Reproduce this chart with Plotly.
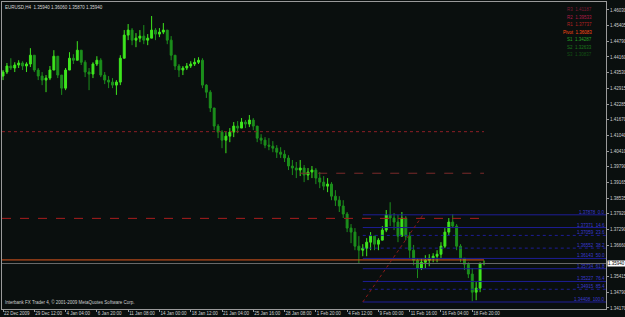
import plotly.graph_objects as go

# ---------------- data (EURUSD, H4) ----------------
bar_index = list(range(124))

high = [1.4364, 1.4392, 1.4411, 1.4395, 1.4403, 1.4399, 1.4395, 1.4451, 1.4423, 1.4372,
        1.4356, 1.4344, 1.4380, 1.4443, 1.4411, 1.4344, 1.4372, 1.4435, 1.4427, 1.4479,
        1.4443, 1.4403, 1.4372, 1.4395, 1.4419, 1.4411, 1.4356, 1.4340, 1.4332, 1.4324,
        1.4423, 1.4523, 1.4547, 1.4531, 1.4511, 1.4523, 1.4543, 1.4507, 1.4579, 1.4531,
        1.4531, 1.4551, 1.4523, 1.4499, 1.4423, 1.4388, 1.4380, 1.4392, 1.4399, 1.4411,
        1.4415, 1.4411, 1.4308, 1.4284, 1.4213, 1.4149, 1.4125, 1.4117, 1.4133, 1.4157,
        1.4161, 1.4173, 1.4165, 1.4185, 1.4173, 1.4141, 1.4109, 1.4097, 1.4093, 1.4081,
        1.4065, 1.4057, 1.4045, 1.4025, 1.4006, 1.3998, 1.4006, 1.3986, 1.3974, 1.3982,
        1.3974, 1.3958, 1.3942, 1.3934, 1.3918, 1.3886, 1.3862, 1.3846, 1.3799, 1.3751,
        1.3735, 1.3703, 1.3671, 1.3695, 1.3719, 1.3703, 1.3695, 1.3743, 1.3807, 1.3838,
        1.3795, 1.3787, 1.3799, 1.3783, 1.3719, 1.3668, 1.3615, 1.3615, 1.3627, 1.3631,
        1.3635, 1.3647, 1.3679, 1.3735, 1.3775, 1.3791, 1.3751, 1.3671, 1.3615, 1.3599,
        1.3576, 1.3520, 1.3599, 1.3606]

low = [1.4324, 1.4348, 1.4364, 1.4356, 1.4372, 1.4364, 1.4356, 1.4376, 1.4356, 1.4324,
       1.4304, 1.4276, 1.4324, 1.4364, 1.4332, 1.4265, 1.4284, 1.4364, 1.4388, 1.4403,
       1.4384, 1.4336, 1.4284, 1.4332, 1.4380, 1.4336, 1.4308, 1.4292, 1.4292, 1.4265,
       1.4304, 1.4411, 1.4483, 1.4463, 1.4455, 1.4475, 1.4467, 1.4463, 1.4491, 1.4483,
       1.4495, 1.4507, 1.4467, 1.4403, 1.4364, 1.4336, 1.4344, 1.4364, 1.4372, 1.4380,
       1.4388, 1.4292, 1.4253, 1.4197, 1.4125, 1.4093, 1.4053, 1.4033, 1.4077, 1.4097,
       1.4113, 1.4133, 1.4133, 1.4137, 1.4125, 1.4077, 1.4069, 1.4053, 1.4045, 1.4037,
       1.4014, 1.4014, 1.3998, 1.3966, 1.3946, 1.3934, 1.3942, 1.3918, 1.3926, 1.3934,
       1.3910, 1.3894, 1.3886, 1.3878, 1.3846, 1.3823, 1.3799, 1.3775, 1.3719, 1.3675,
       1.3647, 1.3595, 1.3623, 1.3623, 1.3647, 1.3647, 1.3647, 1.3687, 1.3719, 1.3743,
       1.3727, 1.3679, 1.3719, 1.3687, 1.3615, 1.3587, 1.3536, 1.3568, 1.3576, 1.3583,
       1.3599, 1.3599, 1.3615, 1.3655, 1.3707, 1.3735, 1.3647, 1.3599, 1.3568, 1.3536,
       1.3444, 1.3448, 1.3480, 1.3587]

close = [1.4356, 1.4380, 1.4372, 1.4384, 1.4392, 1.4380, 1.4388, 1.4423, 1.4364, 1.4340,
         1.4324, 1.4332, 1.4364, 1.4419, 1.4344, 1.4292, 1.4364, 1.4411, 1.4403, 1.4443,
         1.4395, 1.4356, 1.4348, 1.4388, 1.4403, 1.4344, 1.4324, 1.4316, 1.4304, 1.4316,
         1.4411, 1.4503, 1.4523, 1.4483, 1.4491, 1.4499, 1.4483, 1.4491, 1.4523, 1.4507,
         1.4515, 1.4523, 1.4483, 1.4423, 1.4380, 1.4364, 1.4372, 1.4380, 1.4388, 1.4395,
         1.4403, 1.4304, 1.4276, 1.4213, 1.4141, 1.4117, 1.4085, 1.4101, 1.4117, 1.4141,
         1.4133, 1.4157, 1.4149, 1.4165, 1.4141, 1.4093, 1.4085, 1.4065, 1.4061, 1.4053,
         1.4037, 1.4029, 1.4014, 1.3982, 1.3974, 1.3966, 1.3974, 1.3946, 1.3958, 1.3966,
         1.3934, 1.3918, 1.3902, 1.3910, 1.3862, 1.3846, 1.3823, 1.3791, 1.3735, 1.3719,
         1.3663, 1.3647, 1.3655, 1.3679, 1.3703, 1.3671, 1.3687, 1.3727, 1.3787, 1.3775,
         1.3759, 1.3703, 1.3775, 1.3703, 1.3647, 1.3607, 1.3576, 1.3599, 1.3607, 1.3615,
         1.3623, 1.3631, 1.3663, 1.3719, 1.3759, 1.3743, 1.3663, 1.3615, 1.3591, 1.3552,
         1.3480, 1.3496, 1.3594, 1.3594]

first_open = 1.4340
open_ = [first_open] + close[:-1]   # each bar opens at the previous close

assert len(high) == len(low) == len(close) == len(bar_index)

date_tick_bars = [0, 8, 16, 24, 32, 40, 48, 56, 64, 72, 80, 88, 96, 104, 112, 120]
date_tick_labels = ["22 Dec 2009", "29 Dec 12:00", "4 Jan 04:00", "6 Jan 20:00", "11 Jan 08:00",
                    "14 Jan 00:00", "18 Jan 12:00", "21 Jan 04:00", "25 Jan 16:00", "28 Jan 08:00",
                    "1 Feb 20:00", "4 Feb 12:00", "9 Feb 00:00", "11 Feb 16:00", "16 Feb 04:00",
                    "18 Feb 20:00"]

# 1.36040 sits under the current-price box in the reference, so it is not listed
price_ticks = [1.46030, 1.45405, 1.44790, 1.44160, 1.43530, 1.42915, 1.42285, 1.41670, 1.41040,
               1.40410, 1.39790, 1.39165, 1.38535, 1.37920, 1.37290, 1.36660, 1.35415,
               1.34790, 1.34170]

pivot_names = ["R3", "R2", "R1", "Pivot", "S1", "S2", "S3"]
pivot_values = [1.41187, 1.39533, 1.37737, 1.36083, 1.34287, 1.32633, 1.30837]
pivot_colors = ["#7e1a34", "#b01c48", "#b52222", "#ff4a14", "#26a326", "#1c781c", "#145214"]

current_price = 1.35940
title_text = "EURUSD,H4  1.35940 1.36060 1.35870 1.35940"
copyright_text = "Interbank FX Trader 4, © 2001-2009 MetaQuotes Software Corp."

fib_anchor_bars = [92, 107.4]
fib_anchor_prices = [1.34408, 1.37878]
fib_ratios = [0.0, 0.146, 0.236, 0.382, 0.5, 0.618, 0.764, 0.854, 1.0]
fib_dotted = [False, False, True, True, False, False, False, True, False]

# ---------------- figure ----------------
BG = "#0a0f0e"
FONT = "Liberation Sans"
X_MIN, X_MAX = -0.26, 154.2
Y_MIN, Y_MAX = 1.3413, 1.46348

fig = go.Figure()
fig.add_trace(go.Candlestick(
    x=bar_index, open=open_, high=high, low=low, close=close,
    increasing=dict(line=dict(color="#3ee61e", width=1), fillcolor="#3ee61e"),
    decreasing=dict(line=dict(color="#1c8f1c", width=1), fillcolor="#1c8f1c"),
    whiskerwidth=0, showlegend=False, hoverinfo="skip"))

shapes = []
last_bar = bar_index[-1]
# pivot lines
pivot_line_specs = {"R3": ("dot", X_MIN), "R2": ("dash", 76), "R1": ("dash", X_MIN), "Pivot": ("solid", X_MIN)}
pivot_line_colors = {"R3": "#8e1f26", "R2": "#7a2a2a", "R1": "#a81e1e", "Pivot": "#e0581e"}
# current price line (drawn first so the pivot line stays visible over it)
shapes.append(dict(type="line", xref="paper", yref="y", x0=0, x1=1, y0=current_price, y1=current_price,
                   line=dict(color="#6a6a6a", width=1)))
for name, val in zip(pivot_names, pivot_values):
    if name in pivot_line_specs:
        dash, x0 = pivot_line_specs[name]
        shapes.append(dict(type="line", xref="x", yref="y", x0=x0, x1=last_bar, y0=val, y1=val,
                           line=dict(color=pivot_line_colors[name], width=1, dash=dash)))
# fibonacci
fib_lo, fib_hi = fib_anchor_prices
annotations = []
for r, dotted in zip(fib_ratios, fib_dotted):
    lvl = fib_hi - r * (fib_hi - fib_lo)
    shapes.append(dict(type="line", xref="x", yref="y", x0=fib_anchor_bars[0], x1=X_MAX, y0=lvl, y1=lvl,
                       line=dict(color="#1e1e96", width=1, dash="dot" if dotted else "solid")))
    annotations.append(dict(xref="paper", yref="y", x=1, y=lvl, xanchor="right", yanchor="bottom",
                            text=f"{lvl:.5f}  {r*100:.1f}", showarrow=False,
                            font=dict(size=4.5, color="#3a3ad2", family=FONT), borderpad=0, yshift=-1))
shapes.append(dict(type="line", xref="x", yref="y", x0=fib_anchor_bars[0], x1=fib_anchor_bars[1],
                   y0=fib_anchor_prices[0], y1=fib_anchor_prices[1],
                   line=dict(color="#8a1a1a", width=1, dash="dot")))

# texts
annotations.append(dict(xref="paper", yref="paper", x=0, y=1, xanchor="left", yanchor="top", xshift=1, yshift=-1,
                        text=title_text, showarrow=False, font=dict(size=4.5, color="#d8d8d8", family=FONT)))
annotations.append(dict(xref="paper", yref="paper", x=0, y=0, xanchor="left", yanchor="bottom", xshift=1, yshift=2,
                        text=copyright_text, showarrow=False, font=dict(size=4.5, color="#cfcfcf", family=FONT)))
pivot_label_rows = [9.5, 17, 24.5, 32, 39.5, 47, 54.5]
for name, val, col, ypix in zip(pivot_names, pivot_values, pivot_colors, pivot_label_rows):
    annotations.append(dict(xref="paper", yref="paper", x=(593 - 2) / 604, y=1 - (ypix - 2) / 307,
                            xanchor="right", yanchor="middle", text=f"{name}  {val:.5f}", showarrow=False,
                            font=dict(size=4.5, color=col, family=FONT), borderpad=0))
annotations.append(dict(xref="paper", yref="y", x=1, y=current_price, xanchor="left", yanchor="middle",
                        xshift=1, text=f"{current_price:.5f}", showarrow=False, bgcolor="#ffffff",
                        font=dict(size=4.5, color="#000000", family=FONT), borderpad=0))

fig.update_layout(
    width=625, height=317, margin=dict(l=2, r=19, t=2, b=8, autoexpand=False),
    paper_bgcolor=BG, plot_bgcolor=BG, showlegend=False,
    font=dict(family=FONT, size=4.5, color="#cccccc"),
    xaxis=dict(range=[X_MIN, X_MAX], rangeslider=dict(visible=False), automargin=False,
               tickmode="array", tickvals=date_tick_bars, ticktext=date_tick_labels, tickangle=0,
               ticks="outside", ticklen=2, tickcolor="#9a9a9a", ticklabelposition="outside right",
               tickfont=dict(size=4.5, color="#cfcfcf", family=FONT),
               showgrid=False, zeroline=False, showline=True, linecolor="#9a9a9a", linewidth=1, mirror=True),
    yaxis=dict(range=[Y_MIN, Y_MAX], side="right", tickmode="array", tickvals=price_ticks, automargin=False,
               ticktext=[f"{t:.5f}" for t in price_ticks],
               ticks="outside", ticklen=2, tickcolor="#9a9a9a",
               tickfont=dict(size=4.5, color="#cfcfcf", family=FONT),
               showgrid=False, zeroline=False, showline=True, linecolor="#9a9a9a", linewidth=1, mirror=True),
    shapes=shapes, annotations=annotations,
)

fig.write_html("out.html")
